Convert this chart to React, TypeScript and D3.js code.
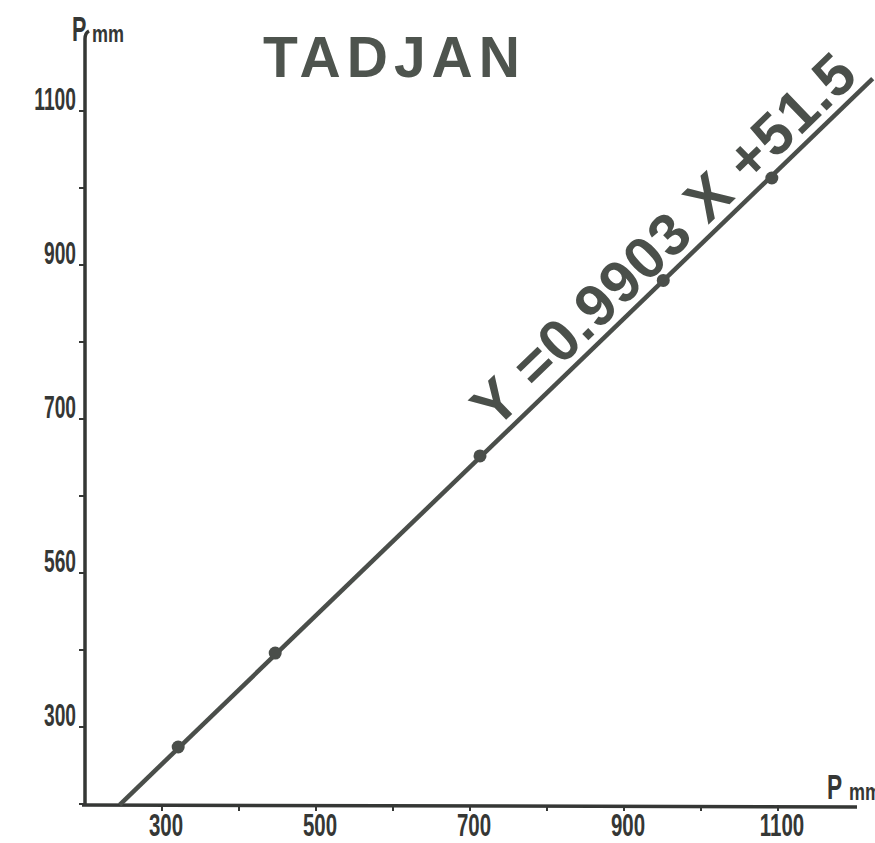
import React from "react";
import * as d3 from "d3";

const obsX = [321, 447, 713, 951, 1092];
const obsY = [274, 396, 652, 880, 1013];
const fitX = [245, 1223];
const fitY = [199, 1142];
const xTickValues = [300, 500, 700, 900, 1100];
const xTickLabels = ["300", "500", "700", "900", "1100"];
const yTickValues = [1100, 900, 700, 500, 300];
const yTickLabels = ["1100", "900", "700", "560", "300"];
const minorTicks = [200, 300, 400, 500, 600, 700, 800, 900, 1000, 1100];
const titleText = "TADJAN";
const equationText = "Y =0.9903 X +51.5";

const W = 875;
const H = 843;

export default function App() {
  const x = d3.scaleLinear().domain([200, 1200]).range([85, 855]);
  const y = d3.scaleLinear().domain([200, 1200]).range([804, 34]);
  const ink = "#353735";
  const lineInk = "#4a4e4a";
  const labelFont = "'Liberation Sans', Arial, sans-serif";

  const line = d3
    .line<[number, number]>()
    .x((d) => x(d[0]))
    .y((d) => y(d[1]));
  const fitPts: [number, number][] = fitX.map((v, i) => [v, fitY[i]]);

  const x0 = x(fitX[0]), y0 = y(fitY[0]);
  const x1 = x(fitX[1]), y1 = y(fitY[1]);
  const len = Math.hypot(x1 - x0, y1 - y0);
  const ux = (x1 - x0) / len, uy = (y1 - y0) / len;
  // normal pointing up-left
  const nx = uy, ny = -ux;
  const angle = (Math.atan2(y1 - y0, x1 - x0) * 180) / Math.PI;
  const tDist = 530;
  const off = 9;
  const labX = x0 + ux * tDist + nx * off;
  const labY = y0 + uy * tDist + ny * off;

  const condensed = (
    key: string,
    tx: number,
    ty: number,
    s: string,
    size: number,
    sx: number,
    anchor: "start" | "middle" | "end"
  ) => (
    <text
      key={key}
      transform={`translate(${tx},${ty}) scale(${sx},1)`}
      textAnchor={anchor}
      fontFamily={labelFont}
      fontWeight="bold"
      fontSize={size}
      fill={ink}
    >
      {s}
    </text>
  );

  return (
    <svg
      width={W}
      height={H}
      style={{ position: "absolute", left: 0, top: 0, background: "#fff" }}
    >
      <rect width={W} height={H} fill="#ffffff" />
      {/* title */}
      <text
        x={263}
        y={77}
        fontFamily="'Liberation Sans', Arial, sans-serif"
        fontWeight="bold"
        fontSize={57}
        letterSpacing={6}
        fill="#4e544e"
      >
        {titleText}
      </text>

      {/* y axis */}
      <path
        d={`M${x(200)},${y(200) + 2} L${x(200)},39 Q${x(200)},33 ${x(200) + 4},31`}
        fill="none"
        stroke={ink}
        strokeWidth={3.5}
      />
      {/* x axis */}
      <line x1={82} x2={857} y1={y(200) + 1} y2={y(200) + 3} stroke={ink} strokeWidth={3.5} />

      {/* y ticks */}
      {minorTicks.map((v) => (
        <line key={"yt" + v} x1={x(200) - 6} x2={x(200)} y1={y(v)} y2={y(v)} stroke={ink} strokeWidth={2} />
      ))}
      {/* x ticks */}
      {minorTicks.filter((v) => v > 200).map((v) => (
        <line key={"xt" + v} x1={x(v)} x2={x(v)} y1={y(200) + 1} y2={y(200) + 7} stroke={ink} strokeWidth={2} />
      ))}

      {/* y labels */}
      {yTickValues.map((v, i) => condensed("yl" + v, 76, y(v) - 1, yTickLabels[i], 31, 0.62, "end"))}
      {/* x labels */}
      {xTickValues.map((v, i) => condensed("xl" + v, x(v) + 4, 836, xTickLabels[i], 31, 0.66, "middle"))}

      {/* axis titles */}
      {condensed("py", 72, 41, "P", 36, 0.6, "start")}
      {condensed("pym", 92, 42, "mm", 24, 0.75, "start")}
      {condensed("px", 827, 799, "P", 35, 0.65, "start")}
      {condensed("pxm", 849, 800, "mm", 24, 0.75, "start")}

      {/* fitted line */}
      <path d={line(fitPts) || ""} fill="none" stroke={lineInk} strokeWidth={4.5} />

      {/* observed points */}
      {obsX.map((v, i) => (
        <circle key={"p" + i} cx={x(v)} cy={y(obsY[i])} r={6.5} fill={lineInk} />
      ))}

      {/* equation */}
      <text
        transform={`translate(${labX},${labY}) rotate(${angle})`}
        fontFamily="'Liberation Sans', Arial, sans-serif"
        fontWeight="bold"
        fontSize={59}
        letterSpacing={1}
        fill="#4a4f4a"
      >
        {equationText}
      </text>
    </svg>
  );
}
